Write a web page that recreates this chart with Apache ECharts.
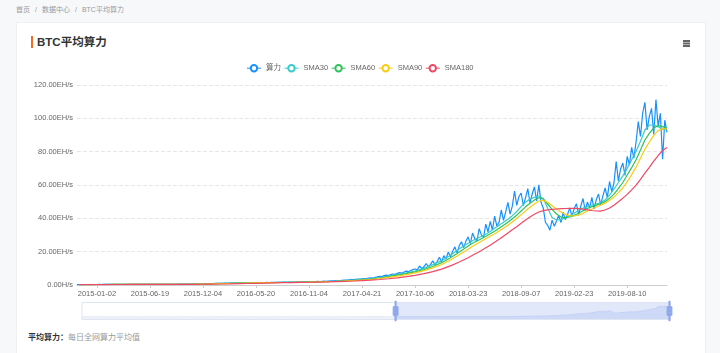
<!DOCTYPE html>
<html lang="zh-CN">
<head>
<meta charset="utf-8">
<title>BTC平均算力</title>
<script src="https://cdn.jsdelivr.net/npm/echarts@6.0.0/dist/echarts.min.js"></script>
<style>
  html, body { margin: 0; padding: 0; }
  body {
    width: 720px; height: 353px; overflow: hidden; position: relative;
    background: #f7f8fa;
    font-family: 'Liberation Sans', 'Noto Sans CJK SC', sans-serif;
  }
  .crumb { position: absolute; left: 16px; top: 5px; font-size: 7px; line-height: 10px; color: #999; }
  .crumb i { font-style: normal; margin: 0 5px; }
  .card { position: absolute; left: 16px; top: 22px; width: 688px; height: 340px; background: #fff; border: 1px solid #eef0f2; }
  .title { position: absolute; left: 31px; top: 36px; height: 12px; border-left: 2px solid #f56b1f; padding-left: 4px;
           font-size: 11.5px; line-height: 12px; font-weight: bold; color: #333; }
  .menu { position: absolute; left: 683px; top: 40px; width: 7px; height: 1.5px; background: #666;
          box-shadow: 0 2.5px 0 #666, 0 5px 0 #666; }
  .note { position: absolute; left: 28px; top: 333px; font-size: 8px; line-height: 10px; color: #999; }
  .note b { color: #333; }
  #chart { position: absolute; left: 0; top: 0; width: 720px; height: 353px; }
</style>
</head>
<body>
<div class="crumb">首页<i>/</i>数据中心<i>/</i>BTC平均算力</div>
<div class="card"></div>
<div class="title">BTC平均算力</div>
<div class="menu"></div>
<div class="note"><b>平均算力：</b>每日全网算力平均值</div>
<div id="chart"></div>

<script>
  // weekly points, first one 2009-01-09 (EH/s)
  // 2009 - 2013, too small to show
  const hashEarly = [
    0,0,0,0,0,0,0,0,0,0,0,0,0, 0,0,0,0,0,0,0,0,0,0,0,0,0, 0,0,0,0,0,0,0,0,0,0,0,0,0, 0,0,0,0,0,0,0,0,0,0,0,0,0,
    0,0,0,0,0,0,0,0,0,0,0,0,0, 0,0,0,0,0,0,0,0,0,0,0,0,0, 0,0,0,0,0,0,0,0,0,0,0,0,0, 0,0,0,0,0,0,0,0,0,0,0,0,0,
    0,0,0,0,0,0,0,0,0,0,0,0,0, 0,0,0,0,0,0,0,0,0,0,0,0,0, 0,0,0,0,0,0,0,0,0,0,0,0,0, 0,0,0,0,0,0,0,0,0,0,0,0,0,
    0,0,0,0,0,0,0,0,0,0,0,0,0, 0,0,0,0,0,0,0,0,0,0,0,0,0, 0,0,0,0,0,0,0,0,0,0,0,0,0, 0,0,0,0,0,0,0,0,0,0,0,0,0,
    0,0,0,0,0,0,0,0,0,0,0,0,0, 0,0,0,0,0,0,0,0,0,0,0,0,0, 0,0,0,0,0,0,0,0,0,0,0,0,0, 0,0,0,0,0,0,0,0,0,0,0,0,0
  ];
  // from 2014-01-03
  const hashRate = [
    0.010, 0.012, 0.013, 0.014, 0.016, 0.018, 0.020, 0.023, 0.026, 0.029, 0.032, 0.036, 0.040, 0.043, 0.047,
    0.052, 0.057, 0.061, 0.066, 0.072, 0.077, 0.083, 0.090, 0.096, 0.103, 0.110, 0.118, 0.125, 0.133, 0.141,
    0.148, 0.156, 0.165, 0.173, 0.181, 0.190, 0.199, 0.208, 0.218, 0.229, 0.240, 0.251, 0.262,
    0.27, 0.28, 0.28, 0.29, 0.30, 0.29, 0.31, 0.30, 0.31,
    // 2015-01-02
    0.31, 0.32, 0.31, 0.33, 0.33, 0.34, 0.33, 0.35, 0.34, 0.35, 0.36, 0.35, 0.36, 0.37, 0.36, 0.37, 0.36, 0.38, 0.37, 0.38, 0.37, 0.38, 0.37, 0.36,
    // 2015-06-19
    0.37, 0.38, 0.40, 0.39, 0.41, 0.42, 0.41, 0.43, 0.44, 0.43, 0.45, 0.46, 0.45, 0.47, 0.49, 0.48, 0.51, 0.53, 0.55, 0.58, 0.61, 0.64, 0.67, 0.71,
    // 2015-12-04
    0.74, 0.78, 0.82, 0.80, 0.86, 0.90, 0.95, 0.92, 1.00, 1.05, 1.10, 1.06, 1.15, 1.18, 1.22, 1.20, 1.27, 1.30, 1.34, 1.31, 1.38, 1.42, 1.39, 1.45,
    // 2016-05-20
    1.42, 1.48, 1.45, 1.40, 1.47, 1.52, 1.50, 1.55, 1.53, 1.58, 1.62, 1.57, 1.64, 1.68, 1.65, 1.72, 1.75, 1.70, 1.78, 1.82, 1.79, 1.86, 1.90, 1.87,
    // 2016-11-04
    1.95, 2.00, 1.96, 2.05, 2.12, 2.08, 2.20, 2.30, 2.25, 2.40, 2.50, 2.45, 2.60, 2.70, 2.65, 2.80, 2.95, 2.90, 3.10, 3.25, 3.20, 3.40, 3.55, 3.50,
    // 2017-04-21
    3.70, 3.85, 3.80, 4.10, 4.30, 4.20, 4.60, 4.90, 5.20, 5.00, 5.60, 5.90, 5.70, 6.20, 6.60, 6.40, 7.00, 7.40, 7.10, 7.80, 8.30, 8.00, 8.70, 9.20,
    // 2017-10-06
    9.6, 9.1, 11.4, 9.8, 10.9, 12.9, 10.9, 12.4, 14.5, 12.2, 14.1, 16.7, 13.8, 17.6, 15.5, 19.8, 17.0, 20.3, 22.9, 19.3, 23.6, 25.9, 22.4, 26.3,
    // 2018-03-23
    28.9, 24.8, 31.2, 27.9, 26.4, 33.8, 30.1, 28.7, 36.5, 31.9, 38.2, 33.0, 41.3, 35.4, 37.6, 45.0, 38.8, 43.9, 49.6, 42.5, 47.3, 56.4, 47.8, 53.1,
    // 2018-09-07
    55.2, 47.6, 52.4, 57.8, 49.3, 54.6, 58.9, 50.4, 60.1, 49.6, 46.1, 37.5, 35.8, 32.9, 38.9, 35.2, 38.4, 41.8, 37.4, 43.5, 39.2, 42.4, 46.2, 41.3,
    // 2019-02-23
    45.9, 48.8, 42.2, 47.4, 51.9, 44.6, 49.8, 46.1, 52.6, 45.7, 51.2, 54.6, 48.1, 53.5, 58.2, 52.4, 62.1, 56.0, 61.2, 74.0, 62.5, 69.6, 73.2, 65.8,
    // 2019-08-10
    77.2, 72.0, 82.6, 76.1, 85.8, 98.0, 89.1, 103.2, 109.6, 93.1, 101.2, 106.0, 90.4, 111.2, 95.3, 103.0, 75.5, 98.9, 91.6
  ];

  // moving averages, read at these week numbers (week 0 = 2009-01-09)
  const smaWeek = [];
  for (let w = 304; w <= 480; w += 4) smaWeek.push(w);
  for (let w = 482; w <= 570; w += 2) smaWeek.push(w);

  const sma30 = [
    0.27, 0.285, 0.30, 0.32, 0.335, 0.345, 0.355, 0.365, 0.37, 0.39, 0.415, 0.44, 0.475, 0.55, 0.67, 0.80, 0.92, 1.04, 1.16, 1.29, 1.39, 1.45, 1.50,
    1.58, 1.66, 1.75, 1.87, 2.02, 2.18, 2.40, 2.68, 2.98, 3.42, 3.90, 4.5, 5.3, 6.3, 7.3, 8.4, 10.0, 12.2, 14.6, 17.9, 21.8, 25.0,
    26.5, 27.9, 29.1, 30.5, 32.1, 34.0, 35.8, 37.6, 39.5, 41.6, 44.1, 47.0, 49.7, 51.6, 52.6, 53.4, 51.9, 46.0, 40.5, 39.0, 39.2, 40.4,
    41.6, 43.1, 44.8, 46.1, 47.2, 48.0, 48.6, 49.5, 51.0, 53.9, 57.6, 61.5, 65.5, 70.0, 75.2, 80.2, 86.2, 93.0, 96.0, 96.0, 95.0, 93.5, 93.0
  ];
  const sma60 = [
    0.26, 0.28, 0.29, 0.31, 0.33, 0.34, 0.35, 0.36, 0.37, 0.38, 0.40, 0.43, 0.455, 0.51, 0.60, 0.74, 0.86, 0.98, 1.10, 1.22, 1.34, 1.42, 1.47,
    1.53, 1.61, 1.70, 1.79, 1.93, 2.08, 2.25, 2.50, 2.78, 3.12, 3.60, 4.2, 5.0, 5.9, 6.8, 7.9, 9.2, 11.1, 13.4, 16.3, 19.8, 23.4,
    25.0, 26.4, 27.8, 29.2, 30.7, 32.3, 34.0, 35.8, 37.7, 39.7, 41.9, 44.4, 46.9, 49.1, 51.0, 52.4, 51.6, 48.6, 45.4, 42.6, 40.8, 40.3,
    40.8, 41.8, 43.1, 44.6, 45.9, 47.0, 47.9, 48.8, 50.0, 52.0, 54.5, 57.8, 61.5, 66.0, 70.4, 75.2, 81.0, 87.0, 91.0, 94.2, 95.6, 95.0, 94.0
  ];
  const sma90 = [
    0.25, 0.27, 0.285, 0.30, 0.32, 0.335, 0.345, 0.355, 0.365, 0.37, 0.385, 0.41, 0.44, 0.475, 0.54, 0.65, 0.78, 0.90, 1.02, 1.14, 1.26, 1.37, 1.44,
    1.49, 1.55, 1.63, 1.72, 1.84, 1.98, 2.14, 2.34, 2.58, 2.90, 3.30, 3.9, 4.6, 5.3, 6.2, 7.3, 8.6, 10.3, 12.3, 15.0, 18.1, 21.5,
    23.2, 24.8, 26.3, 27.8, 29.3, 30.8, 32.4, 34.0, 35.8, 37.8, 39.9, 42.2, 44.5, 46.6, 48.6, 50.4, 50.8, 49.6, 47.6, 45.6, 43.8, 42.4,
    41.6, 41.4, 41.9, 43.0, 44.4, 45.6, 46.8, 47.9, 49.1, 50.8, 52.7, 55.4, 58.2, 62.0, 66.2, 70.7, 76.0, 81.4, 85.8, 89.8, 92.6, 93.8, 93.6
  ];
  const sma180 = [
    0.20, 0.22, 0.245, 0.27, 0.29, 0.305, 0.32, 0.335, 0.345, 0.355, 0.365, 0.38, 0.40, 0.43, 0.47, 0.53, 0.60, 0.69, 0.80, 0.91, 1.03, 1.15, 1.27,
    1.38, 1.48, 1.57, 1.66, 1.76, 1.88, 2.03, 2.20, 2.40, 2.65, 2.95, 3.3, 3.75, 4.3, 5.0, 5.8, 6.8, 8.0, 9.5, 11.5, 13.8, 16.4,
    17.8, 19.2, 20.7, 22.3, 23.9, 25.6, 27.4, 29.3, 31.2, 33.1, 35.0, 37.0, 39.0, 40.8, 42.4, 43.8, 44.6, 45.1, 45.4, 45.6, 45.8, 45.9,
    46.0, 46.0, 45.8, 45.5, 45.1, 44.7, 44.4, 44.3, 45.0, 46.2, 47.9, 49.9, 52.1, 54.4, 57.1, 59.9, 63.4, 67.1, 70.6, 74.3, 77.6, 80.7, 82.5
  ];

  const hashAll = hashEarly.concat(hashRate);

  // week labels; the source skips one day after 2018-09-07
  const dates = [];
  const day = 86400000;
  const first = Date.UTC(2009, 0, 9);
  for (let i = 0; i < hashAll.length; i++) {
    const d = new Date(first + (i * 7 + (i > 504 ? 1 : 0)) * day);
    dates.push(d.toISOString().slice(0, 10));
  }

  function atWeeks(list) {
    return smaWeek.map(function (w, i) { return [w, list[i]]; });
  }

  const font = "'Liberation Sans', 'Noto Sans CJK SC', sans-serif";

  let myChart = echarts.init(document.getElementById('chart'));
  myChart.setOption({
    animation: false,
    color: ['#1890ff', '#36cbcb', '#2fc25b', '#facc14', '#f04864'],
    textStyle: { fontFamily: font },
    legend: {
      top: 59,
      left: 'center',
      itemWidth: 14,
      itemHeight: 8,
      itemGap: 3,
      lineStyle: { width: 1 },
      itemStyle: { borderWidth: 1 },
      textStyle: { fontSize: 7.5, color: '#666', fontFamily: font },
      data: ['算力', 'SMA30', 'SMA60', 'SMA90', 'SMA180']
    },
    grid: { left: 77, right: 53, top: 85, bottom: 68 },
    xAxis: {
      type: 'category',
      boundaryGap: false,
      data: dates,
      axisLine: { lineStyle: { color: '#cccccc' } },
      axisTick: { interval: 23, length: 3, lineStyle: { color: '#cccccc' } },
      axisLabel: { interval: 23, margin: 5, fontSize: 7.5, color: '#666', fontFamily: font }
    },
    yAxis: {
      type: 'value',
      min: 0,
      max: 120,
      interval: 20,
      axisLine: { show: false },
      axisTick: { show: false },
      axisLabel: {
        margin: 4, fontSize: 7.5, color: '#666', fontFamily: font,
        formatter: function (v) { return v === 0 ? '0.00H/s' : v.toFixed(2) + 'EH/s'; }
      },
      splitLine: { lineStyle: { type: 'dashed', color: '#e6e6e6' } }
    },
    dataZoom: [{
      type: 'slider',
      xAxisIndex: 0,
      startValue: 303,
      endValue: 570,
      left: 79,
      right: 52,
      top: 302,
      height: 18,
      showDetail: false,
      brushSelect: false,
      moveHandleSize: 0,
      borderColor: '#dfe5f2',
      backgroundColor: 'rgba(0,0,0,0)',
      fillerColor: 'rgba(135,165,235,0.25)',
      handleIcon: 'path://M8.2,13.6V3.9H6.3v9.7H3.1v14.9h3.3v9.7h1.8v-9.7h3.3V13.6H8.2z M9.7,24.4H4.8v-1.4h4.9V24.4z M9.7,19.1H4.8v-1.4h4.9V19.1z',
      handleSize: '110%',
      handleStyle: { color: '#8ea8ec', borderColor: '#8ea8ec' },
      dataBackground: {
        lineStyle: { color: '#d5dcef', width: 0.5 },
        areaStyle: { color: '#eef1f9', opacity: 1 }
      },
      selectedDataBackground: {
        lineStyle: { color: '#c3cff0', width: 0.5 },
        areaStyle: { color: '#d3ddf6', opacity: 0.6 }
      }
    }],
    series: [
      { name: '算力', type: 'line', data: hashAll, showSymbol: false, symbol: 'emptyCircle', itemStyle: { borderWidth: 1 }, lineStyle: { width: 1.2 } },
      { name: 'SMA30', type: 'line', data: atWeeks(sma30), showSymbol: false, symbol: 'emptyCircle', itemStyle: { borderWidth: 1 }, lineStyle: { width: 1.2 } },
      { name: 'SMA60', type: 'line', data: atWeeks(sma60), showSymbol: false, symbol: 'emptyCircle', itemStyle: { borderWidth: 1 }, lineStyle: { width: 1.2 } },
      { name: 'SMA90', type: 'line', data: atWeeks(sma90), showSymbol: false, symbol: 'emptyCircle', itemStyle: { borderWidth: 1 }, lineStyle: { width: 1.2 } },
      { name: 'SMA180', type: 'line', data: atWeeks(sma180), showSymbol: false, symbol: 'emptyCircle', itemStyle: { borderWidth: 1 }, lineStyle: { width: 1.2 } }
    ]
  });
</script>
</body>
</html>
